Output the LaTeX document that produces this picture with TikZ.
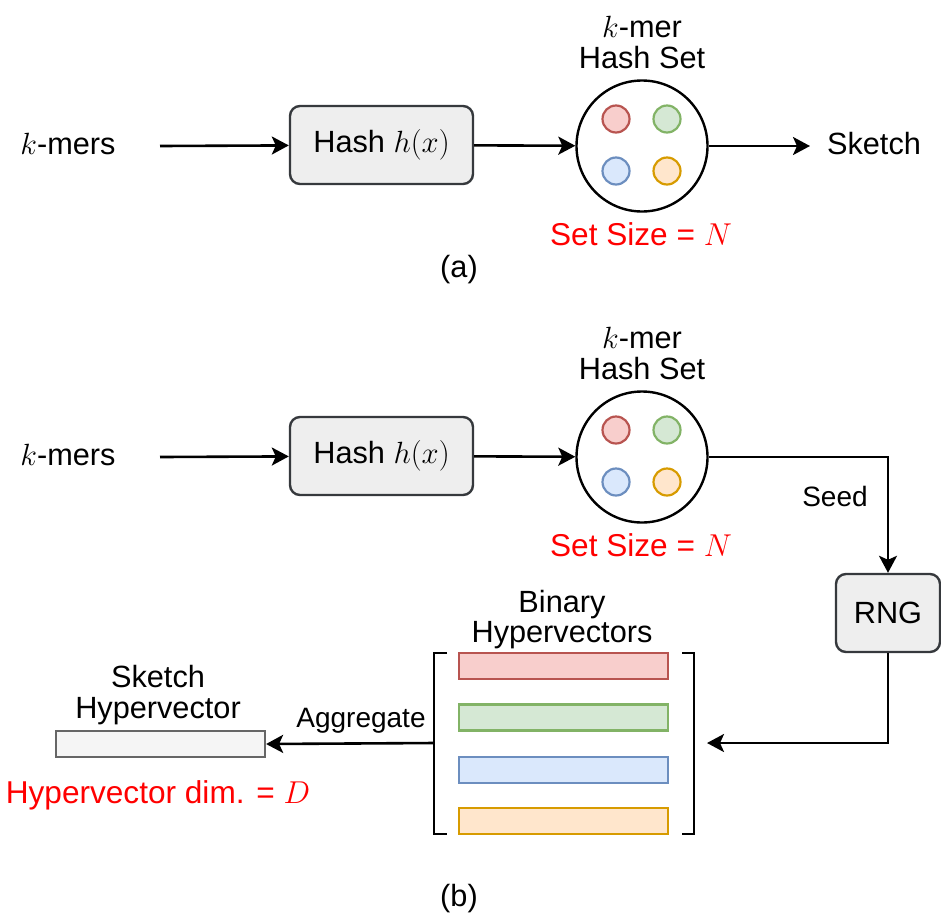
\RequirePackage{fix-cm}
\documentclass[tikz,border=0pt]{standalone}
\usepackage{fontspec}
\setmainfont{Liberation Sans}
\usetikzlibrary{arrows.meta}
\definecolor{boxfill}{HTML}{EEEEEE}
\definecolor{boxline}{HTML}{36393D}
\definecolor{redf}{HTML}{F8CECC}\definecolor{reds}{HTML}{B85450}
\definecolor{greenf}{HTML}{D5E8D4}\definecolor{greens}{HTML}{82B366}
\definecolor{bluef}{HTML}{DAE8FC}\definecolor{blues}{HTML}{6C8EBF}
\definecolor{orangef}{HTML}{FFE6CC}\definecolor{oranges}{HTML}{D79B00}
\definecolor{hvf}{HTML}{F5F5F5}\definecolor{hvs}{HTML}{666666}
\definecolor{txtred}{HTML}{FF0000}
\begin{document}
\begin{tikzpicture}[x=1pt,y=-1pt,
  txt/.style={font=\fontsize{30.7}{36}\selectfont, inner sep=0pt, anchor=base},
  smalltxt/.style={font=\fontsize{28}{33}\selectfont, inner sep=0pt, anchor=base},
  redtxt/.style={txt, font=\fontsize{31.6}{37}\selectfont, text=txtred},
  procbox/.style={draw=boxline, fill=boxfill, rounded corners=10pt, line width=2.4pt, font=\fontsize{30.7}{36}\selectfont},
  setcirc/.style={draw=black, circle, minimum size=131pt, line width=2.4pt, inner sep=0pt},
  dotc/.style={circle, minimum size=27pt, inner sep=0pt, line width=2.2pt},
  bar/.style={rectangle, minimum width=209pt, minimum height=26pt, inner sep=0pt, line width=2.2pt},
  arr/.style={-{Stealth[length=17pt,width=18pt,inset=4pt]}, line width=2.6pt},
  bracketline/.style={line width=2.6pt}
]
\useasboundingbox (0,0) rectangle (941,919);

% ---------- (a) ----------
\node[txt] (kmA) at (68,154) {$k$-mers};
\coordinate (kmAe) at (160,146);
\node[procbox, minimum width=183pt, minimum height=78pt] (hA) at (381.5,145) {Hash $h(x)$};
\node[setcirc] (cA) at (642,146) {};
\node[dotc, fill=redf, draw=reds] (dA1) at (616,119) {};
\node[dotc, fill=greenf, draw=greens] (dA2) at (667,119) {};
\node[dotc, fill=bluef, draw=blues] (dA3) at (616,171) {};
\node[dotc, fill=orangef, draw=oranges] (dA4) at (667,171) {};
\node[txt] (kmerA) at (642,37) {$k$-mer};
\node[txt] (hsA) at (642,68) {Hash Set};
\node[txt] (skA) at (874,154) {Sketch};
\coordinate (skAw) at (810,146);
\node[redtxt] (ssA) at (641,245) {Set Size = $N$};
\node[txt] (capA) at (459,277) {(a)};
\draw[arr] (kmAe) -- (hA);
\draw[arr] (hA) -- (cA);
\draw[arr] (cA) -- (skAw);

% ---------- (b) ----------
\node[txt] (kmB) at (68,465) {$k$-mers};
\coordinate (kmBe) at (160,457);
\node[procbox, minimum width=183pt, minimum height=78pt] (hB) at (381.5,456) {Hash $h(x)$};
\node[setcirc] (cB) at (642,457) {};
\node[dotc, fill=redf, draw=reds] (dB1) at (616,430) {};
\node[dotc, fill=greenf, draw=greens] (dB2) at (667,430) {};
\node[dotc, fill=bluef, draw=blues] (dB3) at (616,482) {};
\node[dotc, fill=orangef, draw=oranges] (dB4) at (667,482) {};
\node[txt] (kmerB) at (642,348) {$k$-mer};
\node[txt] (hsB) at (642,379) {Hash Set};
\node[redtxt] (ssB) at (641,556) {Set Size = $N$};
\draw[arr] (kmBe) -- (hB);
\draw[arr] (hB) -- (cB);

\node[procbox, minimum width=104pt, minimum height=78pt] (rng) at (888,613) {RNG};
\draw[arr] (cB.east) -| (rng.north);
\node[smalltxt] (seed) at (835,506) {Seed};

% binary hypervectors
\node[txt] (binT) at (562,612) {Binary};
\node[txt] (hvT) at (562,642) {Hypervectors};
\node[bar, fill=redf, draw=reds] (b1) at (563.5,666) {};
\node[bar, fill=greenf, draw=greens] (b2) at (563.5,717.5) {};
\node[bar, fill=bluef, draw=blues] (b3) at (563.5,770) {};
\node[bar, fill=orangef, draw=oranges] (b4) at (563.5,821) {};
\draw[bracketline] (447,653) -- (434,653) -- (434,834) -- (447,834);
\draw[bracketline] (682,653) -- (694,653) -- (694,834) -- (682,834);
\coordinate (brL) at (434,743);
\coordinate (brR) at (707,743);
\draw[arr] (rng.south) |- (brR);

% sketch hypervector
\node[txt] (skT1) at (158,687) {Sketch};
\node[txt] (skT2) at (158,718) {Hypervector};
\node[bar, fill=hvf, draw=hvs] (shv) at (160.5,744) {};
\draw[arr] (brL) -- (shv.east);
\node[smalltxt] (agg) at (361,727) {Aggregate};
\node[redtxt] (dimT) at (158,803) {Hypervector dim. = $D$};
\node[txt] (capB) at (459,906) {(b)};
\end{tikzpicture}
\end{document}
